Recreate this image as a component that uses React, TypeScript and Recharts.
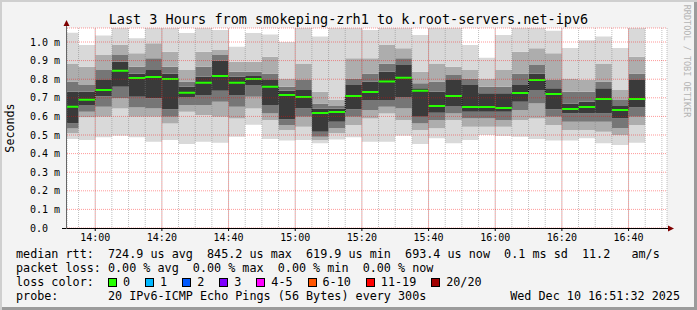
import React from 'react';
import { ComposedChart, Area, XAxis, YAxis, CartesianGrid, ReferenceLine } from 'recharts';

// 5 minute rrd steps, labelled by the start of each step
const stepStarts = [
  '13:50', '13:55', '14:00', '14:05', '14:10', '14:15', '14:20', '14:25', '14:30', '14:35',
  '14:40', '14:45', '14:50', '14:55', '15:00', '15:05', '15:10', '15:15', '15:20', '15:25',
  '15:30', '15:35', '15:40', '15:45', '15:50', '15:55', '16:00', '16:05', '16:10', '16:15',
  '16:20', '16:25', '16:30', '16:35', '16:40',
];
const lastStepEnd = '16:45';
const graphStart = '13:51:32';
const graphEnd = '16:51:32';

// smoke boundaries in ms (sorted pings, outermost to median)
const pingMin = [0.478, 0.473, 0.488, 0.496, 0.488, 0.464, 0.473, 0.452, 0.464, 0.459, 0.491, 0.555, 0.478, 0.470, 0.473, 0.455, 0.476, 0.488, 0.464, 0.464, 0.496, 0.452, 0.482, 0.455, 0.473, 0.500, 0.495, 0.491, 0.478, 0.470, 0.470, 0.482, 0.455, 0.446, 0.459];
const lowOuter = [0.509, 0.595, 0.598, 0.643, 0.598, 0.598, 0.562, 0.625, 0.607, 0.598, 0.589, 0.643, 0.580, 0.527, 0.545, 0.473, 0.509, 0.554, 0.589, 0.616, 0.580, 0.527, 0.536, 0.580, 0.545, 0.545, 0.545, 0.580, 0.589, 0.554, 0.527, 0.527, 0.518, 0.500, 0.554];
const lowMid = [0.535, 0.625, 0.652, 0.697, 0.648, 0.643, 0.598, 0.661, 0.661, 0.679, 0.652, 0.706, 0.616, 0.554, 0.598, 0.491, 0.536, 0.598, 0.634, 0.652, 0.643, 0.562, 0.580, 0.616, 0.589, 0.589, 0.580, 0.634, 0.670, 0.598, 0.571, 0.571, 0.571, 0.536, 0.598];
const lowInner = [0.562, 0.661, 0.709, 0.760, 0.706, 0.697, 0.638, 0.702, 0.715, 0.738, 0.715, 0.769, 0.661, 0.584, 0.643, 0.518, 0.571, 0.638, 0.688, 0.688, 0.702, 0.598, 0.620, 0.656, 0.625, 0.625, 0.625, 0.679, 0.742, 0.638, 0.616, 0.616, 0.616, 0.589, 0.648];
const pingMedian = [0.652, 0.690, 0.742, 0.846, 0.806, 0.812, 0.801, 0.727, 0.781, 0.817, 0.781, 0.801, 0.760, 0.715, 0.704, 0.618, 0.624, 0.710, 0.731, 0.787, 0.808, 0.738, 0.656, 0.710, 0.650, 0.650, 0.645, 0.726, 0.796, 0.720, 0.640, 0.650, 0.694, 0.634, 0.694];
const highInner = [0.733, 0.733, 0.796, 0.894, 0.831, 0.849, 0.831, 0.760, 0.813, 0.900, 0.813, 0.817, 0.796, 0.738, 0.742, 0.643, 0.641, 0.769, 0.787, 0.840, 0.876, 0.751, 0.733, 0.796, 0.769, 0.724, 0.724, 0.769, 0.831, 0.751, 0.670, 0.679, 0.751, 0.656, 0.796];
const highMid = [0.787, 0.769, 0.849, 0.930, 0.867, 0.912, 0.867, 0.787, 0.867, 0.930, 0.840, 0.840, 0.831, 0.760, 0.796, 0.670, 0.656, 0.804, 0.831, 0.885, 0.912, 0.778, 0.787, 0.822, 0.804, 0.760, 0.760, 0.831, 0.876, 0.796, 0.733, 0.733, 0.787, 0.688, 0.831];
const highOuter = [0.885, 0.867, 0.930, 0.984, 0.939, 0.993, 0.948, 0.849, 0.948, 0.957, 0.894, 0.894, 0.921, 0.804, 0.885, 0.733, 0.688, 0.912, 0.912, 0.984, 0.966, 0.840, 0.885, 0.867, 0.849, 0.804, 0.849, 0.948, 0.966, 0.939, 0.804, 0.796, 0.885, 0.742, 0.921];
const pingMax = [1.050, 0.984, 1.035, 1.090, 1.020, 1.080, 1.080, 1.048, 1.080, 1.065, 0.975, 1.048, 1.040, 1.000, 1.080, 1.030, 1.080, 1.080, 1.065, 1.080, 1.080, 1.038, 1.080, 1.080, 0.984, 0.915, 1.038, 1.080, 1.080, 1.060, 0.968, 1.010, 1.030, 0.968, 1.080];

const yTicks = [0, 0.1, 0.2, 0.3, 0.4, 0.5, 0.6, 0.7, 0.8, 0.9, 1.0];
const timeLabels = ['14:00', '14:20', '14:40', '15:00', '15:20', '15:40', '16:00', '16:20', '16:40'];

const medianStats = ['724.9 us avg', '845.2 us max', '619.9 us min', '693.4 us now', '0.1 ms sd', '11.2   am/s'];
const lossStats = ['0.00 % avg', '0.00 % max', '0.00 % min', '0.00 % now'];
const lossNames = ['0', '1', '2', '3', '4-5', '6-10', '11-19', '20/20'];
const lossColors = ['#26ff00', '#00b8ff', '#0059ff', '#7e00ff', '#ff00ff', '#ff5500', '#ff0000', '#a10000'];

const shades = ['#d9d9d9', '#adadad', '#767676', '#3a3a3a', '#3a3a3a', '#767676', '#adadad', '#d9d9d9'];

const toMin = (s: string) => {
  const [h, m, sec = '0'] = s.split(':');
  return Number(h) * 60 + Number(m) + Number(sec) / 60;
};
const fmtTime = (v: number) => {
  const r = Math.round(v);
  return `${Math.floor(r / 60)}:${String(r % 60).padStart(2, '0')}`;
};

const X0 = toMin(graphStart);
const X1 = toMin(graphEnd);
const Y_MAX = 1.0753;
const PLOT_H = 200;
const MED_HALF = Y_MAX / PLOT_H; // 1px either side of the median

const levels = [pingMin, lowOuter, lowMid, lowInner, pingMedian, highInner, highMid, highOuter, pingMax];
const rows = stepStarts.map((s, i) => ({ t: toMin(s), v: levels.map((a) => a[i]) }));
// step areas need the closing edge of the last step
rows.push({ t: toMin(lastStepEnd), v: rows[rows.length - 1].v });

const minorTicks: number[] = [];
for (let t = toMin('13:55'); t < X1; t += 5) minorTicks.push(t);
const majorSet = new Set(timeLabels);

const mono = '"DejaVu Sans Mono", monospace';

function TimeTick(props: any) {
  const { x, y, payload } = props;
  const label = fmtTime(payload.value);
  if (!majorSet.has(label)) return null;
  return (
    <g>
      <line x1={x} x2={x} y1={y} y2={y + 3} stroke="#000" />
      <text x={x} y={y + 12.5} textAnchor="middle" fontFamily={mono} fontSize={10} fill="#000">
        {label}
      </text>
    </g>
  );
}

function ValueTick(props: any) {
  const { x, y, payload } = props;
  const v = payload.value;
  return (
    <text x={x - 29} y={y + 3.5} textAnchor="start" fontFamily={mono} fontSize={10} fill="#000">
      {v === 0 ? '0.0' : `${v.toFixed(1)} m`}
    </text>
  );
}

export default function App() {
  return (
    <div
      style={{
        position: 'relative',
        width: 697,
        height: 310,
        background: '#f3f3f3',
        boxShadow: 'inset 2px 2px 0 #cfcfcf, inset -3px -3px 0 #9b9b9b',
        fontFamily: mono,
        color: '#000',
        overflow: 'hidden',
      }}
    >
      <style>{`body{margin:0}`}</style>
      <div style={{ position: 'absolute', left: 67, top: 28, width: 600, height: 200, background: '#fff' }} />
      <div
        style={{
          position: 'absolute', left: 0, width: 697, top: 11, textAlign: 'center',
          fontSize: 13.5, lineHeight: '16px', whiteSpace: 'pre',
        }}
      >
        Last 3 Hours from smokeping-zrh1 to k.root-servers.net-ipv6
      </div>
      <div
        style={{
          position: 'absolute', left: 10, top: 128, fontSize: 11.7, lineHeight: '14px',
          transform: 'translate(-50%, -50%) rotate(-90deg)', whiteSpace: 'pre',
        }}
      >
        Seconds
      </div>
      <div
        style={{
          position: 'absolute', left: 687, top: 61, fontSize: 8.5, lineHeight: '10px', color: '#b4b4b4',
          transform: 'translate(-50%, -50%) rotate(90deg)', whiteSpace: 'pre',
        }}
      >
        RRDTOOL / TOBI OETIKER
      </div>

      <div style={{ position: 'absolute', left: 0, top: 0 }}>
        <ComposedChart width={697} height={245} data={rows} margin={{ top: 28, right: 30, bottom: 0, left: 0 }}>
          <XAxis
            type="number"
            dataKey="t"
            domain={[X0, X1]}
            allowDataOverflow
            ticks={minorTicks}
            interval={0}
            height={17}
            tickSize={0}
            tickMargin={0}
            axisLine={false}
            tickLine={false}
            tick={<TimeTick />}
          />
          <YAxis
            type="number"
            domain={[0, Y_MAX]}
            allowDataOverflow
            ticks={yTicks}
            interval={0}
            width={67}
            tickSize={0}
            tickMargin={8}
            axisLine={false}
            tickLine={false}
            tick={<ValueTick />}
          />
          {shades.map((c, k) => (
            <Area
              key={k}
              zIndex={100}
              type="stepAfter"
              dataKey={(d: any) => [d.v[k], d.v[k + 1]]}
              fill={c}
              fillOpacity={1}
              stroke="none"
              dot={false}
              activeDot={false}
              isAnimationActive={false}
            />
          ))}
          {/* dotted connector between medians */}
          <Area
            zIndex={110}
            type="stepAfter"
            dataKey={(d: any) => d.v[4]}
            fill="none"
            stroke="#000"
            strokeWidth={1}
            strokeDasharray="1 1"
            dot={false}
            activeDot={false}
            isAnimationActive={false}
          />
          <Area
            zIndex={120}
            type="stepAfter"
            dataKey={(d: any) => [d.v[4] - MED_HALF, d.v[4] + MED_HALF]}
            fill={lossColors[0]}
            fillOpacity={1}
            stroke="none"
            dot={false}
            activeDot={false}
            isAnimationActive={false}
          />
          <CartesianGrid zIndex={150} horizontal={false} stroke="#808080" strokeOpacity={0.5} strokeDasharray="1 1" />
          <CartesianGrid zIndex={150} vertical={false} stroke="#ff0000" strokeOpacity={0.4} strokeDasharray="1 1" />
          {timeLabels.map((t) => (
            <ReferenceLine
              key={t}
              zIndex={150}
              x={toMin(t)}
              stroke="#ff0000"
              strokeOpacity={0.4}
              strokeDasharray="1 1"
            />
          ))}
        </ComposedChart>
      </div>

      {/* rrdtool style axes with arrow heads */}
      <svg width={697} height={310} style={{ position: 'absolute', left: 0, top: 0, pointerEvents: 'none' }}>
        <rect x={61} y={20} width={6} height={208} fill="#f3f3f3" />
        <line x1={62} x2={669} y1={228.5} y2={228.5} stroke="#000" />
        <line x1={66.5} x2={66.5} y1={24} y2={229} stroke="#666" />
        <polygon points="66.5,20 63.5,26 69.5,26" fill="#7f0000" />
        <polygon points="674,228.5 668,225.5 668,231.5" fill="#7f0000" />
      </svg>

      <div style={{ position: 'absolute', left: 16, top: 247, fontSize: 11.75, lineHeight: '14px', whiteSpace: 'pre' }}>
        {'median rtt:  ' + medianStats.join('  ')}
      </div>
      <div style={{ position: 'absolute', left: 16, top: 261, fontSize: 11.75, lineHeight: '14px', whiteSpace: 'pre' }}>
        {'packet loss: ' + lossStats.join('  ')}
      </div>
      <div style={{ position: 'absolute', left: 16, top: 275, fontSize: 11.75, lineHeight: '14px', whiteSpace: 'pre' }}>
        loss color:
      </div>
      <div
        style={{
          position: 'absolute', left: 108, top: 275, fontSize: 11.75, lineHeight: '14px',
          whiteSpace: 'pre', display: 'flex', alignItems: 'center',
        }}
      >
        {lossNames.map((n, i) => (
          <span key={n} style={{ display: 'inline-flex', alignItems: 'center', marginRight: 15 }}>
            <span
              style={{
                display: 'inline-block', width: 7, height: 7, background: lossColors[i],
                border: '1px solid #000', marginRight: 6,
              }}
            />
            {n}
          </span>
        ))}
      </div>
      <div style={{ position: 'absolute', left: 16, top: 289, fontSize: 11.75, lineHeight: '14px', whiteSpace: 'pre' }}>
        {'probe:       20 IPv6-ICMP Echo Pings (56 Bytes) every 300s'}
      </div>
      <div style={{ position: 'absolute', right: 17, top: 289, fontSize: 11.75, lineHeight: '14px', whiteSpace: 'pre' }}>
        Wed Dec 10 16:51:32 2025
      </div>
    </div>
  );
}
